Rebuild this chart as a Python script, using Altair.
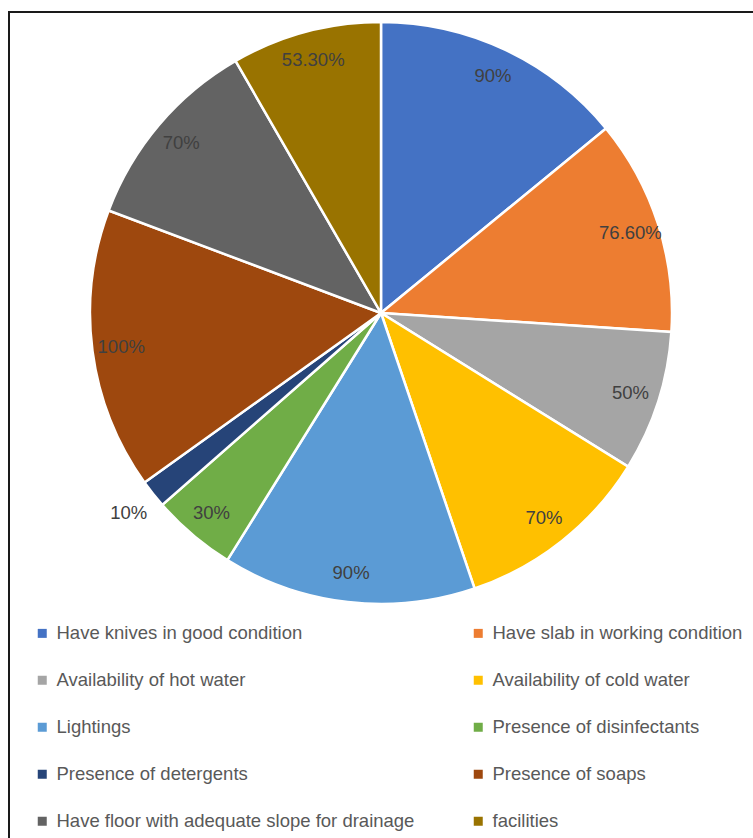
import altair as alt
import pandas as pd

categories = [
    "Have knives in good condition",
    "Have slab in working condition",
    "Availability of hot water",
    "Availability of cold water",
    "Lightings",
    "Presence of disinfectants",
    "Presence of detergents",
    "Presence of soaps",
    "Have floor with adequate slope for drainage",
    "\u00a0facilities",
]
values = [90, 76.6, 50, 70, 90, 30, 10, 100, 70, 53.3]
labels = ["90%", "76.60%", "50%", "70%", "90%", "30%", "10%", "100%", "70%", "53.30%"]
colors = ["#4472C4", "#ED7D31", "#A5A5A5", "#FFC000", "#5B9BD5",
          "#70AD47", "#264478", "#9E480E", "#636363", "#997300"]

FONT = "Liberation Sans"
CX, CY, R = 381, 313, 291

df = pd.DataFrame({
    "category": categories,
    "value": values,
    "label": labels,
    "order": list(range(len(categories))),
})

pie = alt.Chart(df).mark_arc(outerRadius=R, stroke="white", strokeWidth=2.5).encode(
    theta=alt.Theta("value:Q", stack=True),
    order=alt.Order("order:Q"),
    x=alt.value(CX),
    y=alt.value(CY),
    color=alt.Color(
        "category:N",
        scale=alt.Scale(domain=categories, range=colors),
        sort=categories,
        legend=alt.Legend(
            title=None,
            orient="none",
            legendX=33,
            legendY=624,
            direction="horizontal",
            columns=2,
            columnPadding=54,
            rowPadding=28,
            symbolType="square",
            symbolSize=81,
            symbolStrokeWidth=0,
            labelFont=FONT,
            labelFontSize=18.5,
            labelColor="#595959",
            labelOffset=5,
            labelLimit=500,
        ),
    ),
)

text = alt.Chart(df).transform_joinaggregate(
    total="sum(value)"
).transform_window(
    cum="sum(value)", sort=[alt.SortField("order")], frame=[None, 0]
).transform_calculate(
    mid="(datum.cum - datum.value / 2) / datum.total",
    r="datum.value < 20 ? 322 : 262",
).mark_text(font=FONT, fontSize=18.5, color="#404040").encode(
    theta=alt.Theta("mid:Q", scale=alt.Scale(domain=[0, 1]), stack=False),
    x=alt.value(CX),
    y=alt.value(CY),
    radius=alt.Radius("r:Q", scale=None),
    text="label:N",
)

frame = alt.Chart(pd.DataFrame({"a": [0]})).mark_rect(
    fillOpacity=0, stroke="#1a1a1a", strokeWidth=2
).encode(
    x=alt.value(9), y=alt.value(12), x2=alt.value(775), y2=alt.value(870)
)

chart = alt.layer(frame, pie, text).resolve_scale(theta="independent").properties(
    width=753, height=838, padding=0, autosize=alt.AutoSizeParams(type="none"),
    background="white",
).configure_view(stroke=None)

chart.save("out.html", embed_options={"renderer": "svg", "actions": False})
